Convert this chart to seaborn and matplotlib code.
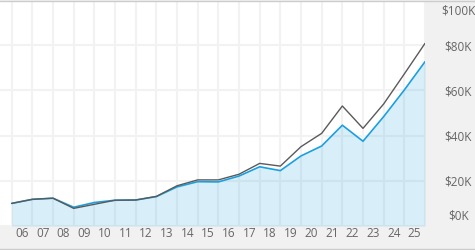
import matplotlib
matplotlib.use("Agg")
import matplotlib.pyplot as plt
import matplotlib.transforms as mtransforms
import seaborn as sns
import pandas as pd
from matplotlib.lines import Line2D

years = list(range(2006, 2027))
fund_values = [10.0, 11.8, 12.3, 8.3, 10.4, 11.4, 11.5, 13.0, 17.3, 19.6, 19.5, 22.1,
               26.2, 24.5, 31.0, 35.4, 44.6, 37.5, 48.4, 60.2, 72.7]
bench_values = [10.0, 11.8, 12.3, 7.8, 9.6, 11.4, 11.5, 13.1, 17.8, 20.4, 20.4, 22.9,
                27.7, 26.5, 35.1, 41.0, 53.1, 43.2, 54.0, 67.3, 80.8]
x_labels = ["06", "07", "08", "09", "10", "11", "12", "13", "14", "15",
            "16", "17", "18", "19", "20", "21", "22", "23", "24", "25"]
y_ticks = [0, 20, 40, 60, 80, 100]
y_labels = ["$0K", "$20K", "$40K", "$60K", "$80K", "$100K"]

df = pd.DataFrame({"year": years, "fund": fund_values, "bench": bench_values})

sns.set_theme(style="white")
plt.rcParams["font.family"] = ["Open Sans", "DejaVu Sans"]

fig = plt.figure(figsize=(4.75, 2.5), dpi=100, facecolor="#f1f1f1")
ax = fig.add_axes([0, 24 / 250, 425 / 475, 226 / 250])
ax.set_facecolor("white")

blue = "#1a9fe0"
ax.fill_between(df["year"], 0, df["fund"], color=blue, alpha=0.17, lw=0, zorder=3)
sns.lineplot(data=df, x="year", y="fund", ax=ax, color=blue, lw=1.2, zorder=4)
sns.lineplot(data=df, x="year", y="bench", ax=ax, color="#5a5a5a", lw=1.0, zorder=5)

ax.set_xlim(years[0] - 0.565, years[-1])
ax.set_ylim(0, 100)

ax.set_xticks(years, minor=False)
ax.grid(True, which="major", axis="both", color="#f2f2f2", lw=1.5, zorder=1)
ax.set_axisbelow(True)
ax.set_xticks([y + 0.5 for y in years[:-1]], minor=True)
ax.set_xticklabels([], minor=False)
ax.set_xticklabels(x_labels, minor=True)
ax.tick_params(axis="x", which="both", length=0, labelsize=8.5, labelcolor="#666666", pad=1)

ax.set_yticks(y_ticks)
ax.yaxis.tick_right()
ax.set_yticklabels(y_labels)
ax.tick_params(axis="y", length=0, labelsize=8.5, labelcolor="#666666", pad=24)
labs = ax.get_yticklabels()
for t in labs:
    t.set_ha("center")
labs[0].set_transform(labs[0].get_transform() +
                      mtransforms.ScaledTranslation(0, 11 / 100, fig.dpi_scale_trans))
labs[-1].set_transform(labs[-1].get_transform() +
                       mtransforms.ScaledTranslation(0, -10 / 100, fig.dpi_scale_trans))

ax.set_xlabel("")
ax.set_ylabel("")
for s in ax.spines.values():
    s.set_visible(False)

fig.add_artist(Line2D([0, 1], [0.998, 0.998], transform=fig.transFigure, color="#cccccc", lw=1))
fig.add_artist(Line2D([0, 1], [0.004, 0.004], transform=fig.transFigure, color="#cccccc", lw=1))

fig.savefig("out.png", dpi=100, facecolor=fig.get_facecolor())
